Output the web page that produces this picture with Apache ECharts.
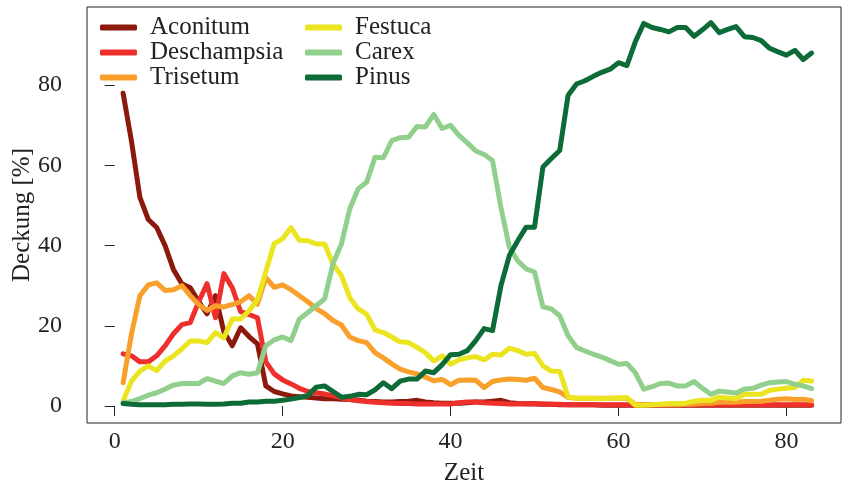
<!DOCTYPE html>
<html>
<head>
<meta charset="utf-8">
<script src="https://cdn.jsdelivr.net/npm/echarts@6/dist/echarts.min.js"></script>
<style>
html,body{margin:0;padding:0;background:#fff;}
#chart{width:843px;height:486px;}
</style>
</head>
<body>
<div id="chart"></div>
<script>
// Time steps (Zeit) 1..83
const zeit = [];
for (let i = 1; i <= 83; i++) zeit.push(i);

const aconitum = [78,66,52,46.5,44.5,40,34,30.5,29.5,26,23,27.5,18.5,15,19.5,17.3,15.5,5,3.6,3,2.5,2.3,2.2,2,1.8,1.8,1.7,1.6,1.5,1.2,1.1,1,1,1.1,1.2,1.4,1,0.8,0.7,0.7,0.7,0.8,1,1,1.2,1.4,0.8,0.6,0.5,0.5,0.4,0.4,0.3,0.3,0.3,0.3,0.3,0.2,0.2,0.2,0.2,0.2,0.2,0.2,0.2,0.2,0.2,0.2,0.2,0.2,0.2,0.2,0.2,0.2,0.2,0.2,0.2,0.2,0.2,0.2,0.2,0.2,0.2];
const deschampsia = [13,12.5,11,11,12.5,15,18,20.3,20.8,26,30.5,22,33,29.5,23.5,22.8,22,11,8,6.5,5.5,4.4,3.6,3.3,3,2.5,2,1.6,1.3,1.1,0.9,0.8,0.7,0.6,0.6,0.5,0.5,0.5,0.5,0.5,0.8,1,1,0.8,0.7,0.6,0.5,0.5,0.6,0.6,0.5,0.4,0.4,0.3,0.3,0.3,0.3,0.3,0.3,0.3,0.3,0.3,0.3,0.3,0.3,0.3,0.3,0.3,0.3,0.3,0.3,0.3,0.3,0.3,0.3,0.3,0.3,0.3,0.3,0.3,0.3,0.3,0.3];
const trisetum = [5.8,18,27.5,30.2,30.7,28.8,29,30,27.5,25.3,23.8,25,24.7,25.3,26,27.5,25.4,32,29.6,30.2,29,27.5,26,24.3,23,21.3,20.2,17.2,16.3,15.8,13.3,12,10.5,9.2,8.5,8,7.2,6.3,6.6,5.3,6.4,6.5,6.4,4.6,6.1,6.5,6.7,6.6,6.4,6.9,4.6,4.1,3.5,2.1,1.9,1.9,1.9,1.9,1.9,1.9,1.9,0.4,0.3,0.3,0.3,0.3,0.3,0.4,0.5,0.6,0.7,0.9,0.9,0.9,1.1,1.1,1.2,1.4,1.7,1.8,1.6,1.7,1.3];
const festuca = [1.2,6.2,8.7,10,8.8,11.2,12.5,14.2,16.2,16.2,15.8,18.3,17,21.7,21.7,23.7,26.5,33.5,40.5,41.7,44.5,41.3,41.2,40.4,40.4,35.4,32.5,27,24.2,22.9,19,18.3,17.2,16,15.8,14.6,13.3,11.2,12.5,10.4,11.5,12,12.3,11.5,12.9,12.7,14.4,13.8,12.9,13.1,10,8.7,8.6,2.3,1.9,1.9,1.9,1.8,1.9,2,2.1,0.2,0.2,0.3,0.4,0.6,0.6,0.7,1.2,1.4,1.4,2.2,2,1.8,2.9,2.9,2.9,3.9,4.2,4.4,4.6,6.4,6.2];
const carex = [0.8,1.1,1.8,2.7,3.3,4.2,5.2,5.6,5.6,5.6,6.8,6.2,5.6,7.5,8.3,7.9,8.3,15,16.5,17.2,16.3,21.7,23.3,25,26.7,35.5,40.4,49.2,54.2,55.8,62,61.9,66.2,66.9,67,69.7,69.6,72.7,69.2,70,67.5,65.6,63.6,62.7,61.2,49.5,39.6,36.2,34.2,33.4,24.7,24.2,22.5,17.5,14.6,13.7,12.9,12.2,11.3,10.4,10.6,8.3,4.2,4.8,5.6,5.7,5,5,6.1,4.4,2.9,3.7,3.5,3.2,4.2,4.4,5.2,5.8,6,6.1,5.4,5,4.3];
const pinus = [0.6,0.4,0.3,0.3,0.3,0.3,0.4,0.4,0.5,0.5,0.4,0.4,0.5,0.7,0.7,1,1,1.2,1.2,1.4,1.7,2.1,2.6,4.7,5,3.6,2.2,2.4,2.9,2.8,4,5.8,4.3,6.2,6.7,6.7,8.7,8.3,10.3,12.8,12.9,13.8,16.3,19.3,18.8,30,37.5,41.2,44.6,44.6,59.6,61.7,63.7,77.5,80.3,81.1,82.2,83.2,84,85.6,84.9,90.8,95.4,94.4,93.9,93.3,94.4,94.4,92.2,93.8,95.6,93.1,93.9,94.6,92.1,91.9,91.1,89.2,88.3,87.5,88.7,86.4,88];

const seriesNames = ['Aconitum','Deschampsia','Trisetum','Festuca','Carex','Pinus'];
const seriesData = [aconitum, deschampsia, trisetum, festuca, carex, pinus];
const colors = ['#8b1a0d','#ee2f2b','#f8a02b','#ebe51f','#90cf8c','#0c6b36'];
const xTicks = [0,20,40,60,80];
const yTicks = [0,20,40,60,80];

const FONT = '"Liberation Serif", "DejaVu Serif", serif';

const chart = echarts.init(document.getElementById('chart'), null, {renderer:'canvas'});

const series = seriesNames.map((n, k) => ({
  name: n,
  type: 'line',
  data: zeit.map((x, i) => [x, seriesData[k][i]]),
  showSymbol: false,
  symbol: 'none',
  lineStyle: { width: 5, color: colors[k], cap: 'round', join: 'round' },
  itemStyle: { color: colors[k] },
  animation: false,
  z: 2 + k
}));

const legendCommon = {
  orient: 'vertical',
  top: 15,
  itemWidth: 37,
  itemHeight: 6,
  itemGap: 0,
  icon: 'roundRect',
  padding: 0,
  textStyle: { fontFamily: FONT, fontSize: 25, color: '#222', lineHeight: 24.5, padding: [0,0,0,8] }
};

chart.setOption({
  animation: false,
  color: colors,
  grid: { left: 87, right: 2, top: 7, bottom: 63, show: true, borderColor: '#222', borderWidth: 1, containLabel: false, outerBoundsMode: 'none' },
  legend: [
    Object.assign({}, legendCommon, { left: 100, data: seriesNames.slice(0,3) }),
    Object.assign({}, legendCommon, { left: 305, data: seriesNames.slice(3) })
  ],
  xAxis: {
    type: 'value', min: -3.3, max: 86.5,
    name: 'Zeit', nameLocation: 'middle', nameGap: 38, nameMoveOverlap: false,
    nameTextStyle: { fontFamily: FONT, fontSize: 25, color: '#222' },
    axisLine: { show: false },
    axisTick: { show: true, length: 10, lineStyle: { color: '#222' }, customValues: xTicks },
    axisLabel: { fontFamily: FONT, fontSize: 24, color: '#222', margin: 7, customValues: xTicks },
    splitLine: { show: false }
  },
  yAxis: {
    type: 'value', min: -4.25, max: 99.5,
    name: 'Deckung [%]', nameLocation: 'middle', nameGap: 52, nameMoveOverlap: false,
    nameTextStyle: { fontFamily: FONT, fontSize: 25, color: '#222' },
    axisLine: { show: false },
    axisTick: { show: true, length: 10, lineStyle: { color: '#222' }, customValues: yTicks },
    axisLabel: { fontFamily: FONT, fontSize: 24, color: '#222', margin: 25, customValues: yTicks },
    splitLine: { show: false }
  },
  series: series
});
</script>
</body>
</html>
